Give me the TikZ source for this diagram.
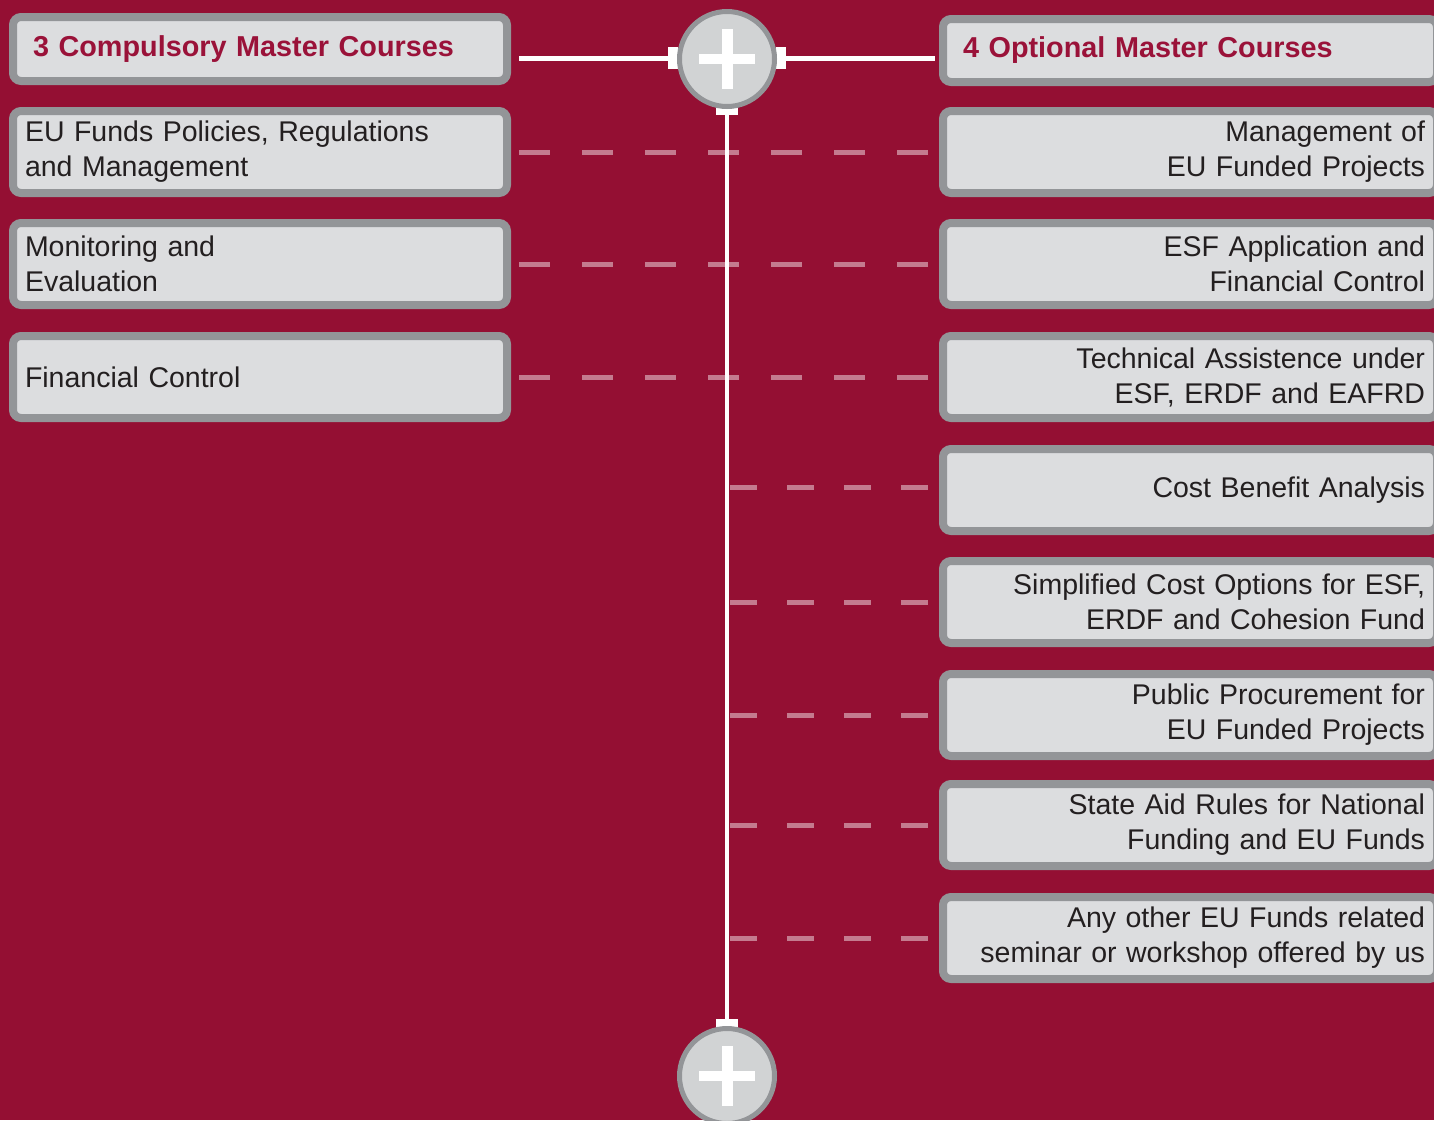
\documentclass[tikz,border=0pt]{standalone}
\usepackage{fontspec}
\setmainfont{Liberation Sans}
\usetikzlibrary{calc}
\definecolor{bgred}{HTML}{940F33}
\definecolor{boxfill}{HTML}{DCDDDF}
\definecolor{boxline}{HTML}{939598}
\definecolor{circfill}{HTML}{D1D3D4}
\definecolor{headred}{HTML}{9A1239}
\definecolor{txt}{HTML}{231F20}
\tikzset{
  card/.style={draw=boxline, fill=boxfill, line width=8pt, rounded corners=8pt,
    minimum width=494pt, inner sep=0pt, text=txt,
    font=\fontsize{28.5}{35}\selectfont},
  leftcard/.style={card, minimum height=82pt, align=left, text width=470pt},
  rightcard/.style={card, minimum height=82pt, align=right, text width=470pt},
  headcard/.style={card, minimum height=64pt, align=left, text width=454pt,
    text=headred, font=\fontsize{28.8}{35}\selectfont\bfseries},
  plusball/.style={circle, draw=boxline, fill=circfill, line width=5pt, minimum size=95pt, inner sep=0pt},
  tab/.style={fill=white, inner sep=0pt},
  link/.style={draw=white, line width=5pt},
  spine/.style={draw=white, line width=4pt},
  dashlink/.style={draw=white, draw opacity=0.45, line width=5pt, dash pattern=on 31pt off 32pt},
  dashshort/.style={draw=white, draw opacity=0.45, line width=5pt, dash pattern=on 27pt off 30pt},
}
\begin{document}
\begin{tikzpicture}[x=1pt,y=-1pt]
\fill[bgred] (0,0) rectangle (1434,1120);
\useasboundingbox (0,0) rectangle (1434,1120);
\clip (0,0) rectangle (1434,1120);

% left column
\node[headcard] (hL) at (260,49) {3 Compulsory Master Courses};
\node[leftcard] (l1) at (260,152) {EU Funds Policies, Regulations\\and Management};
\node[leftcard] (l2) at (260,264) {Monitoring and\\Evaluation};
\node[leftcard] (l3) at (260,377) {Financial Control};

% right column
\node[headcard, minimum height=63pt] (hR) at (1190,50.5) {4 Optional Master Courses};
\node[rightcard] (r1) at (1190,152) {Management of\\EU Funded Projects};
\node[rightcard] (r2) at (1190,264) {ESF Application and\\Financial Control};
\node[rightcard] (r3) at (1190,377) {Technical Assistence under\\ESF, ERDF and EAFRD};
\node[rightcard] (r4) at (1190,490) {Cost Benefit Analysis};
\node[rightcard] (r5) at (1190,602) {Simplified Cost Options for ESF,\\ERDF and Cohesion Fund};
\node[rightcard] (r6) at (1190,715) {Public Procurement for\\EU Funded Projects};
\node[rightcard] (r7) at (1190,825) {State Aid Rules for National\\Funding and EU Funds};
\node[rightcard] (r8) at (1190,938) {Any other EU Funds related\\seminar or workshop offered by us};

% tabs
\node[tab, minimum width=10pt, minimum height=22pt] (tabL) at (673,58) {};
\node[tab, minimum width=10pt, minimum height=22pt] (tabR) at (781,58) {};
\node[tab, minimum width=22pt, minimum height=8pt] (tabT) at (727,111) {};
\node[tab, minimum width=22pt, minimum height=8pt] (tabB) at (727,1023) {};

% connectors
\draw[link, shorten <=8pt] (hL.east |- tabL) -- (tabL.west);
\draw[link, shorten >=4pt] (tabR.east) -- (hR.west |- tabR);
\draw[spine] (tabT.south) -- (tabB.north);

\foreach \a/\b in {l1/r1, l2/r2, l3/r3}
  \draw[dashlink, shorten <=8pt, shorten >=9pt] (\a.east) -- (\b.west);
\draw[dashshort, shorten <=3pt, shorten >=9pt] ([yshift=3pt]tabT |- r4.west) -- ([yshift=3pt]r4.west);
\foreach \b in {r5,r6,r7,r8}
  \draw[dashshort, shorten <=3pt, shorten >=9pt] (tabT |- \b.west) -- (\b.west);

% plus balls
\node[plusball] (top) at (727,59) {};
\node[plusball] (bot) at (727,1076) {};
\foreach \c in {top,bot}{
  \fill[white] ($(\c)+(-28,-5)$) rectangle ($(\c)+(28,5)$);
  \fill[white] ($(\c)+(-5.5,-30)$) rectangle ($(\c)+(5.5,30)$);
}
\end{tikzpicture}
\end{document}
